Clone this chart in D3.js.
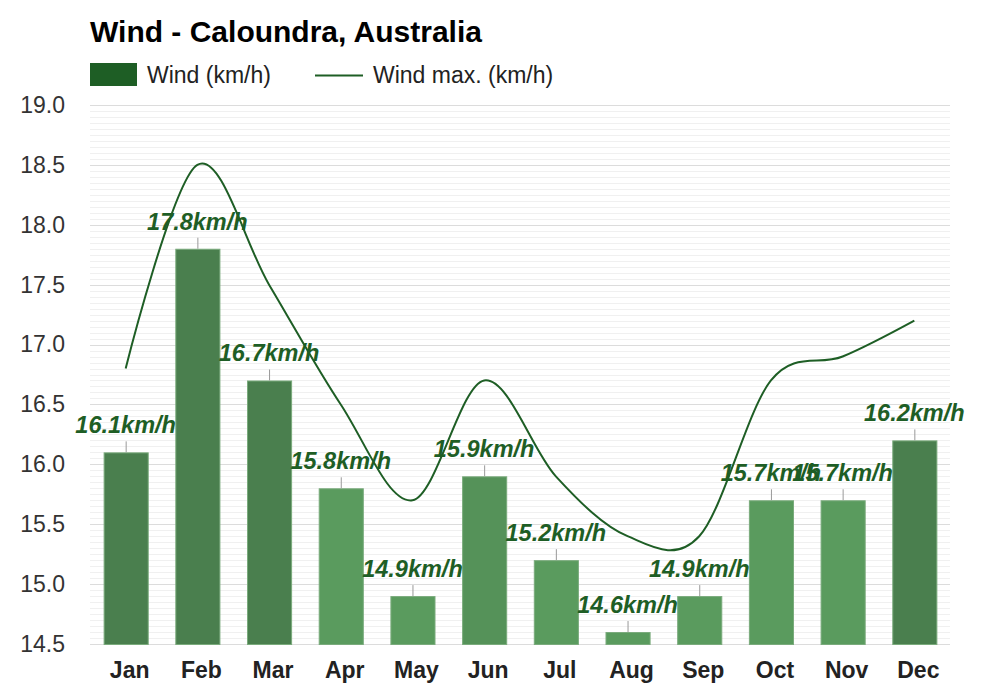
<!DOCTYPE html>
<html>
<head>
<meta charset="utf-8">
<script src="https://cdn.jsdelivr.net/npm/d3@7"></script>
<style>
	body { margin: 0; background: #fff; }
	svg { font-family: "Liberation Sans", Arial, sans-serif; }
</style>
</head>
<body>
<svg id="chart" width="1000" height="700"></svg>
<script>
"use strict";

var months = ["Jan", "Feb", "Mar", "Apr", "May", "Jun", "Jul", "Aug", "Sep", "Oct", "Nov", "Dec"];
var wind = [16.1, 17.8, 16.7, 15.8, 14.9, 15.9, 15.2, 14.6, 14.9, 15.7, 15.7, 16.2];
var windMax = [16.8, 18.5, 17.5, 16.5, 15.7, 16.7, 15.9, 15.4, 15.4, 16.7, 16.9, 17.2];
var yTicks = [14.5, 15.0, 15.5, 16.0, 16.5, 17.0, 17.5, 18.0, 18.5, 19.0];

var Chart = (function(){
	var svg = d3.select("#chart"),
		left = 90, right = 950, top = 105, bottom = 644;

	var x = d3.scaleBand().domain(months).range([left, right]).paddingInner(0.385).paddingOuter(0.19);
	var y = d3.scaleLinear().domain([14.5, 19]).range([bottom, top]);
	var shade = d3.scaleLinear().domain([15.8, 16.1]).range(["#5a9b5e", "#4a7f4e"]).clamp(true);
	var dark = "#1e5e25";

	function grid() {
		// minor lines every 0.05
		var minor = d3.range(0, 91).map(function(i) { return 14.5 + i * 0.05; });
		svg.append("g").selectAll("line")
			.data(minor)
			.enter()
			.append("line")
			.attr("x1", left).attr("x2", right)
			.attr("y1", function(d) { return Math.round(y(d)) + 0.5; })
			.attr("y2", function(d) { return Math.round(y(d)) + 0.5; })
			.attr("stroke", "#f0f0f0");

		svg.append("g").selectAll("line")
			.data(yTicks)
			.enter()
			.append("line")
			.attr("x1", left).attr("x2", right)
			.attr("y1", function(d) { return Math.round(y(d)) + 0.5; })
			.attr("y2", function(d) { return Math.round(y(d)) + 0.5; })
			.attr("stroke", "#dcdcdc");
	}

	function axes() {
		var yAxis = svg.append("g")
			.attr("transform", "translate(" + (left - 22) + ",0)")
			.call(d3.axisLeft(y).tickValues(yTicks).tickFormat(d3.format(".1f")).tickSize(0));
		yAxis.select(".domain").remove();
		yAxis.selectAll("text")
			.attr("font-size", 23)
			.attr("fill", "#333")
			.attr("font-family", "Liberation Sans, Arial, sans-serif");

		var xAxis = svg.append("g")
			.attr("transform", "translate(4," + (bottom + 15) + ")")
			.call(d3.axisBottom(x).tickSize(0));
		xAxis.select(".domain").remove();
		xAxis.selectAll("text")
			.attr("font-size", 23)
			.attr("font-weight", "bold")
			.attr("fill", "#222")
			.attr("font-family", "Liberation Sans, Arial, sans-serif");
	}

	function bars() {
		var data = months.map(function(m, i) { return { month: m, value: wind[i] }; });
		svg.append("g").selectAll("rect")
			.data(data)
			.enter()
			.append("rect")
			.attr("x", function(d) { return x(d.month) + 0.5; })
			.attr("y", function(d) { return y(d.value) + 0.5; })
			.attr("width", x.bandwidth())
			.attr("height", function(d) { return bottom - y(d.value); })
			.attr("fill", function(d) { return shade(d.value); })
			.attr("stroke", "#7aab7c")
			.attr("stroke-width", 1);

		var labels = svg.append("g");
		labels.selectAll("line")
			.data(data)
			.enter()
			.append("line")
			.attr("x1", function(d) { return x(d.month) + x.bandwidth() / 2 + 0.5; })
			.attr("x2", function(d) { return x(d.month) + x.bandwidth() / 2 + 0.5; })
			.attr("y1", function(d) { return y(d.value); })
			.attr("y2", function(d) { return y(d.value) - 11; })
			.attr("stroke", "#999");
		labels.selectAll("text")
			.data(data)
			.enter()
			.append("text")
			.attr("x", function(d) { return x(d.month) + x.bandwidth() / 2; })
			.attr("y", function(d) { return y(d.value) - 19; })
			.attr("text-anchor", "middle")
			.attr("font-size", 23.5)
			.attr("font-weight", "bold")
			.attr("font-style", "italic")
			.attr("fill", dark)
			.text(function(d) { return d.value.toFixed(1) + "km/h"; });
	}

	function maxLine() {
		var line = d3.line()
			.x(function(d, i) { return x(months[i]) + x.bandwidth() / 2; })
			.y(function(d) { return y(d); })
			.curve(d3.curveCardinal.tension(0));
		svg.append("path")
			.datum(windMax)
			.attr("d", line)
			.attr("fill", "none")
			.attr("stroke", dark)
			.attr("stroke-width", 2);
	}

	function header() {
		svg.append("text")
			.attr("x", 90).attr("y", 42)
			.attr("font-size", 30)
			.attr("font-weight", "bold")
			.attr("fill", "#000")
			.text("Wind - Caloundra, Australia");

		svg.append("rect")
			.attr("x", 90).attr("y", 63).attr("width", 47).attr("height", 23)
			.attr("fill", dark);
		svg.append("text")
			.attr("x", 147).attr("y", 83)
			.attr("font-size", 23)
			.attr("fill", "#222")
			.text("Wind (km/h)");

		svg.append("line")
			.attr("x1", 315).attr("x2", 363).attr("y1", 75.5).attr("y2", 75.5)
			.attr("stroke", dark).attr("stroke-width", 2);
		svg.append("text")
			.attr("x", 373).attr("y", 83)
			.attr("font-size", 23)
			.attr("fill", "#222")
			.text("Wind max. (km/h)");
	}

	function init() {
		grid();
		bars();
		maxLine();
		axes();
		header();
	}

	return { "init": init };
}());

Chart.init();
</script>
</body>
</html>
